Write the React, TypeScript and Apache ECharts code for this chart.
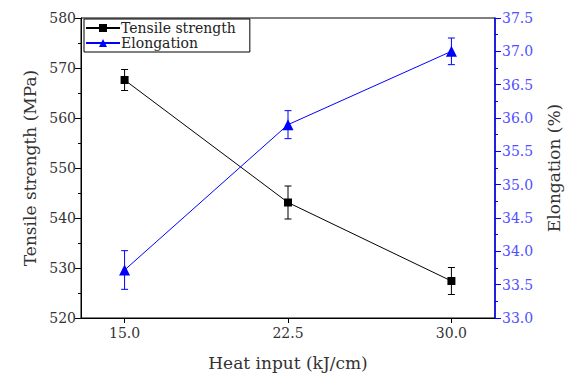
import React, { useEffect, useRef } from "react";
import * as echarts from "echarts";

const heatInput = [15.0, 22.5, 30.0];
const tensile = [567.6, 543.1, 527.4];
const tensileErr = [2.1, 3.3, 2.7];
const elongation = [33.72, 35.9, 37.0];
const elongationErr = [0.29, 0.21, 0.2];
const xTickValues = [15.0, 22.5, 30.0];

const FONT = "'DejaVu Serif', 'Liberation Serif', serif";

function errorSeries(name: string, vals: number[], errs: number[], color: string, yAxisIndex: number) {
  return {
    type: "custom",
    name,
    yAxisIndex,
    z: 1,
    silent: true,
    data: heatInput.map((x, i) => [x, vals[i] - errs[i], vals[i] + errs[i]]),
    renderItem: (params: any, api: any) => {
      const x = api.value(0);
      const p1 = api.coord([x, api.value(1)]);
      const p2 = api.coord([x, api.value(2)]);
      const w = 3.5;
      const st = { stroke: color, lineWidth: 1 };
      return {
        type: "group",
        children: [
          { type: "line", shape: { x1: p1[0], y1: p1[1], x2: p2[0], y2: p2[1] }, style: st },
          { type: "line", shape: { x1: p1[0] - w, y1: p1[1], x2: p1[0] + w, y2: p1[1] }, style: st },
          { type: "line", shape: { x1: p2[0] - w, y1: p2[1], x2: p2[0] + w, y2: p2[1] }, style: st },
        ],
      };
    },
  };
}

export default function App() {
  const ref = useRef<HTMLDivElement>(null);
  useEffect(() => {
    const chart = echarts.init(ref.current!, null, { renderer: "svg" });
    chart.setOption({
      animation: false,
      backgroundColor: "#ffffff",
      grid: { left: 81, right: 76, top: 18, bottom: 56, show: true, borderColor: "#000", borderWidth: 1 },
      legend: {
        data: ["Tensile strength", "Elongation"],
        orient: "vertical",
        left: 84,
        top: 19,
        itemGap: 1,
        itemWidth: 34,
        itemHeight: 10,
        padding: [2, 14, 2, 1],
        borderColor: "#000",
        borderWidth: 1,
        backgroundColor: "#fff",
        textStyle: { fontFamily: FONT, fontSize: 14, color: "#222", padding: [0, 0, 0, -4] },
      },
      xAxis: {
        type: "value",
        min: 13,
        max: 32,
        name: "Heat input (kJ/cm)",
        nameLocation: "middle",
        nameGap: 36,
        nameTextStyle: { fontFamily: FONT, fontSize: 17, color: "#333" },
        axisLine: { show: true, lineStyle: { color: "#000", width: 1 } },
        axisTick: { show: true, inside: false, length: 5, customValues: xTickValues, lineStyle: { color: "#000" } },
        axisLabel: {
          customValues: xTickValues,
          formatter: (v: number) => v.toFixed(1),
          fontFamily: FONT,
          fontSize: 14,
          color: "#333",
          margin: 8,
        },
        splitLine: { show: false },
      },
      yAxis: [
        {
          type: "value",
          min: 520,
          max: 580,
          interval: 10,
          name: "Tensile strength (MPa)",
          nameLocation: "middle",
          nameGap: 43,
          nameTextStyle: { fontFamily: FONT, fontSize: 17, color: "#333" },
          axisLine: { show: true, lineStyle: { color: "#000", width: 1 } },
          axisTick: { show: true, length: 6, lineStyle: { color: "#000" } },
          minorTick: { show: true, splitNumber: 2, length: 3, lineStyle: { color: "#000" } },
          axisLabel: { fontFamily: FONT, fontSize: 14, color: "#333", margin: 5 },
          splitLine: { show: false },
        },
        {
          type: "value",
          min: 33.0,
          max: 37.5,
          interval: 0.5,
          position: "right",
          name: "Elongation (%)",
          nameLocation: "middle",
          nameGap: 50,
          nameTextStyle: { fontFamily: FONT, fontSize: 17, color: "#333" },
          axisLine: { show: true, lineStyle: { color: "#0000ff", width: 1.5 } },
          axisTick: { show: true, length: 6, lineStyle: { color: "#0000ff" } },
          minorTick: { show: true, splitNumber: 2, length: 3, lineStyle: { color: "#0000ff" } },
          axisLabel: {
            fontFamily: FONT,
            fontSize: 14,
            color: "#5050ff",
            margin: 7,
            formatter: (v: number) => v.toFixed(1),
          },
          splitLine: { show: false },
        },
      ],
      series: [
        errorSeries("tsErr", tensile, tensileErr, "#000", 0),
        errorSeries("elErr", elongation, elongationErr, "#0000ff", 1),
        {
          type: "line",
          name: "Tensile strength",
          yAxisIndex: 0,
          z: 3,
          data: heatInput.map((x, i) => [x, tensile[i]]),
          symbol: "rect",
          symbolSize: 8,
          lineStyle: { color: "#000", width: 1 },
          itemStyle: { color: "#000" },
        },
        {
          type: "line",
          name: "Elongation",
          yAxisIndex: 1,
          z: 3,
          data: heatInput.map((x, i) => [x, elongation[i]]),
          symbol: "triangle",
          symbolSize: 11,
          lineStyle: { color: "#0000ff", width: 1 },
          itemStyle: { color: "#0000ff" },
        },
      ],
    });
    return () => chart.dispose();
  }, []);
  return <div ref={ref} style={{ width: 571, height: 376, position: "absolute", left: 0, top: 0 }} />;
}
